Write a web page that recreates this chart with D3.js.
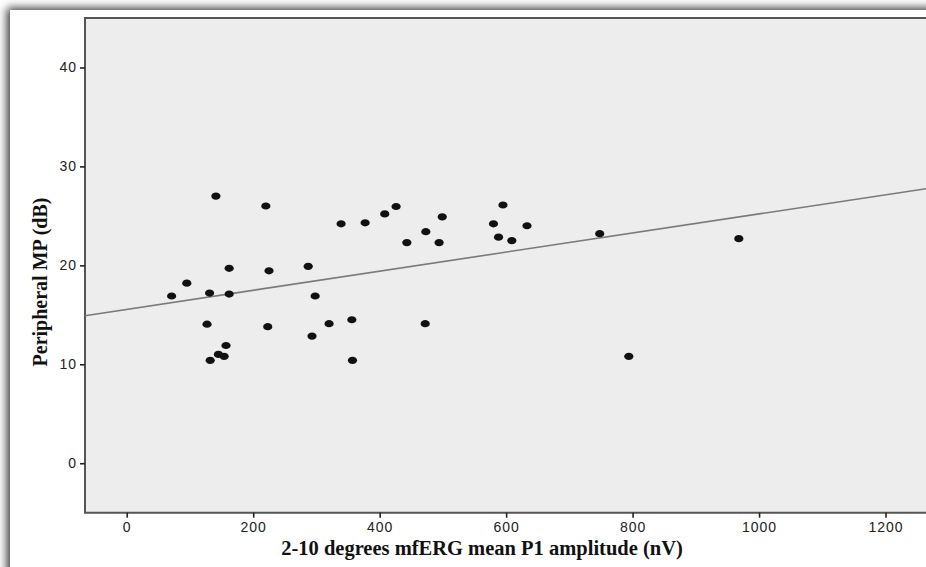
<!DOCTYPE html>
<html>
<head>
<meta charset="utf-8">
<script src="https://cdn.jsdelivr.net/npm/d3@7"></script>
<style>
  body { margin: 0; background: #fff; overflow: hidden; }
</style>
</head>
<body>
<script>
// P1 amplitude (nV) and peripheral MP (dB)
const amplitude = [71, 95, 141, 131, 162, 162, 127, 132, 145, 154, 157, 220, 225, 223,
                   287, 298, 293, 320, 339, 356, 357, 377, 408, 426, 443, 473, 494, 499,
                   472, 580, 595, 588, 609, 633, 748, 794, 968];
const mp = [16.9, 18.2, 27.0, 17.2, 17.1, 19.7, 14.05, 10.4, 11.0, 10.8, 11.9, 26.0, 19.45, 13.8,
            19.9, 16.9, 12.85, 14.1, 24.2, 14.5, 10.4, 24.3, 25.2, 25.95, 22.3, 23.4, 22.3, 24.9,
            14.1, 24.2, 26.1, 22.85, 22.5, 24.0, 23.2, 10.8, 22.7];

const xTicks = [0, 200, 400, 600, 800, 1000, 1200];
const yTicks = [0, 10, 20, 30, 40];

// fit line
const fitIntercept = 15.55;
const fitSlope = 0.00965;

const W = 926, H = 567;
const plotL = 85, plotT = 18, plotR = 926, plotB = 512.7;

const svg = d3.select("body")
              .append("svg")
              .attr("width", W)
              .attr("height", H);

const defs = svg.append("defs");
const f = defs.append("filter").attr("id", "shadow")
              .attr("x", "-5%").attr("y", "-5%").attr("width", "110%").attr("height", "110%");
f.append("feDropShadow")
 .attr("dx", -3).attr("dy", -2)
 .attr("stdDeviation", 5)
 .attr("flood-color", "#000")
 .attr("flood-opacity", 0.8);

// card
svg.append("rect")
   .attr("x", 10).attr("y", 10)
   .attr("width", 1000).attr("height", 620)
   .attr("fill", "#fff")
   .attr("filter", "url(#shadow)");

const x = d3.scaleLinear().domain([-66, 1264]).range([plotL, plotR]);
const y = d3.scaleLinear().domain([-5, 45]).range([plotB, plotT]);

// plot background
svg.append("rect")
   .attr("x", plotL).attr("y", plotT)
   .attr("width", plotR - plotL + 10).attr("height", plotB - plotT)
   .attr("fill", "#ededed");

// frame
svg.append("path")
   .attr("d", `M${plotR + 10},${plotT}H${plotL}V${plotB}H${plotR + 10}`)
   .attr("fill", "none")
   .attr("stroke", "#555")
   .attr("stroke-width", 2);

const xAxis = svg.append("g")
   .attr("transform", `translate(0,${plotB})`)
   .call(d3.axisBottom(x).tickValues(xTicks).tickFormat(d3.format("d")).tickSize(5).tickPadding(4));
const yAxis = svg.append("g")
   .attr("transform", `translate(${plotL},0)`)
   .call(d3.axisLeft(y).tickValues(yTicks).tickFormat(d3.format("d")).tickSize(5).tickPadding(3));

[xAxis, yAxis].forEach(a => {
  a.attr("font-family", "'Liberation Sans', Arial, sans-serif").attr("font-size", 14);
  a.select(".domain").remove();
  a.selectAll(".tick line").attr("stroke", "#222").attr("stroke-width", 1.6);
  a.selectAll(".tick text")
   .attr("fill", "#222")
   .style("letter-spacing", "1px");
});

// fit line
svg.append("line")
   .attr("x1", x(-66)).attr("y1", y(fitIntercept + fitSlope * -66))
   .attr("x2", x(1264)).attr("y2", y(fitIntercept + fitSlope * 1264))
   .attr("stroke", "#7a7a7a")
   .attr("stroke-width", 1.6);

// points
svg.append("g").selectAll("ellipse")
   .data(amplitude.map((a, i) => [a, mp[i]]))
   .enter()
   .append("ellipse")
   .attr("cx", d => x(d[0]))
   .attr("cy", d => y(d[1]))
   .attr("rx", 4.6)
   .attr("ry", 3.6)
   .attr("fill", "#111");

// axis titles
svg.append("text")
   .attr("x", 482).attr("y", 555)
   .attr("text-anchor", "middle")
   .style("font-family", "'Liberation Serif', 'Times New Roman', serif")
   .style("font-weight", "bold")
   .style("font-size", "20.5px")
   .attr("fill", "#111")
   .text("2-10 degrees mfERG mean P1 amplitude (nV)");

svg.append("text")
   .attr("transform", "translate(47,282) rotate(-90)")
   .attr("text-anchor", "middle")
   .style("font-family", "'Liberation Serif', 'Times New Roman', serif")
   .style("font-weight", "bold")
   .style("font-size", "20px")
   .attr("fill", "#111")
   .text("Peripheral MP (dB)");
</script>
</body>
</html>
